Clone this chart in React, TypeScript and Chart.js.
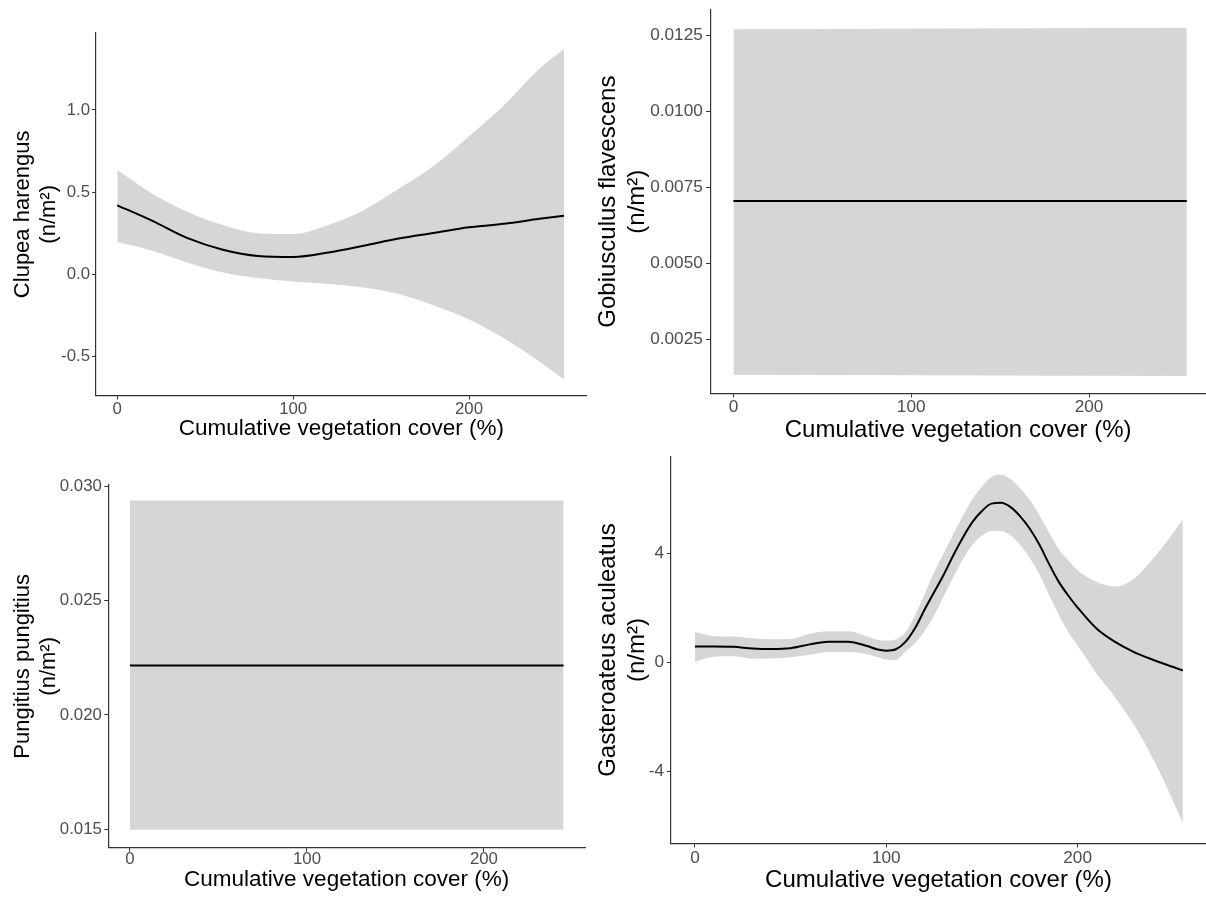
import React, { useEffect, useRef } from "react";
import { Chart, registerables } from "chart.js";

Chart.register(...registerables);

const FONT = "'Liberation Sans', Arial, Helvetica, sans-serif";
const xAxisTitle = "Cumulative vegetation cover (%)";
const unitLine = "(n/m²)";
const xTickValues = [0, 100, 200];

// Panel 1: Clupea harengus
const p1Title = "Clupea harengus";
const p1X = [0, 20, 40, 60, 80, 100, 120, 140, 160, 180, 200, 220, 240, 254];
const p1Fit = [0.42, 0.325, 0.22, 0.15, 0.112, 0.106, 0.133, 0.174, 0.218, 0.252, 0.286, 0.308, 0.338, 0.357];
const p1Upper = [0.634, 0.49, 0.38, 0.3, 0.25, 0.245, 0.3, 0.39, 0.52, 0.66, 0.84, 1.03, 1.25, 1.37];
const p1Lower = [0.198, 0.143, 0.07, 0.012, -0.022, -0.043, -0.058, -0.08, -0.12, -0.19, -0.275, -0.39, -0.53, -0.64];
const p1YTicks = [-0.5, 0, 0.5, 1.0];

// Panel 2: Gobiusculus flavescens
const p2Title = "Gobiusculus flavescens";
const p2X = [0, 255];
const p2Fit = [0.00706, 0.00706];
const p2Upper = [0.01271, 0.01276];
const p2Lower = [0.00134, 0.0013];
const p2YTicks = [0.0025, 0.005, 0.0075, 0.01, 0.0125];

// Panel 3: Pungitius pungitius
const p3Title = "Pungitius pungitius";
const p3X = [0, 245];
const p3Fit = [0.02217, 0.02217];
const p3Upper = [0.02939, 0.02939];
const p3Lower = [0.01497, 0.01497];
const p3YTicks = [0.015, 0.02, 0.025, 0.03];

// Panel 4: Gasteroateus aculeatus
const p4Title = "Gasteroateus aculeatus";
const p4X = [0, 10, 20, 30, 40, 50, 60, 70, 80, 90, 95, 100, 105, 110, 115, 120, 125, 130, 135, 140, 145, 150, 155, 160, 165, 170, 175, 180, 185, 190, 195, 200, 210, 220, 230, 240, 250, 255];
const p4Fit = [0.58, 0.58, 0.57, 0.51, 0.49, 0.52, 0.66, 0.76, 0.76, 0.6, 0.48, 0.43, 0.48, 0.75, 1.25, 1.93, 2.57, 3.21, 3.92, 4.57, 5.14, 5.55, 5.82, 5.85, 5.69, 5.35, 4.9, 4.32, 3.62, 2.97, 2.46, 2.01, 1.23, 0.73, 0.36, 0.08, -0.17, -0.3];
const p4Upper = [1.1, 0.96, 0.95, 0.88, 0.85, 0.86, 1.05, 1.14, 1.14, 0.95, 0.83, 0.8, 0.84, 1.1, 1.72, 2.5, 3.3, 4.0, 4.7, 5.37, 5.98, 6.45, 6.8, 6.88, 6.72, 6.38, 5.95, 5.4, 4.77, 4.17, 3.75, 3.38, 2.95, 2.78, 3.1, 3.85, 4.75, 5.26];
const p4Lower = [0.02, 0.21, 0.22, 0.13, 0.14, 0.19, 0.28, 0.38, 0.38, 0.3, 0.2, 0.1, 0.09, 0.4, 0.7, 1.15, 1.72, 2.42, 3.12, 3.77, 4.3, 4.65, 4.82, 4.82, 4.66, 4.3, 3.83, 3.24, 2.48, 1.77, 1.12, 0.62, -0.42, -1.32, -2.35, -3.62, -5.1, -5.9];
const p4YTicks = [-4, 0, 4];

type Geo = {
  yLeft: number;
  chartLeft: number;
  chartRight: number;
  chartTop: number;
  axisY: number;
  xTitleCenter: number;
  xMin: number;
  xMax: number;
  yMin: number;
  yMax: number;
  yTitleSize: number;
  yTitleLH: number;
  xTitleSize: number;
  tickSize: number;
  xTickPad: number;
  yTickPad: number;
  decimals: number;
};

const geo1: Geo = { yLeft: 10.65, chartLeft: 96, chartRight: 586.7, chartTop: 33, axisY: 395.7, xTitleCenter: 429, xMin: -12.1, xMax: 266.9, yMin: -0.738, yMax: 1.468, yTitleSize: 22, yTitleLH: 1.15, xTitleSize: 22.5, tickSize: 16.8, xTickPad: 0, yTickPad: 2, decimals: 1 };
const geo2: Geo = { yLeft: 593.9, chartLeft: 710.3, chartRight: 1206, chartTop: 10, axisY: 393.3, xTitleCenter: 430.3, xMin: -13.0, xMax: 265.8, yMin: 0.000731, yMax: 0.013347, yTitleSize: 24, yTitleLH: 1.2, xTitleSize: 24, tickSize: 17.2, xTickPad: 0, yTickPad: 3.5, decimals: 4 };
const geo3: Geo = { yLeft: 10.65, chartLeft: 108.3, chartRight: 585, chartTop: 485, axisY: 847.7, xTitleCenter: 880, xMin: -12.26, xMax: 257.1, yMin: 0.014181, yMax: 0.030074, yTitleSize: 22, yTitleLH: 1.15, xTitleSize: 22.5, tickSize: 16.8, xTickPad: -2.5, yTickPad: 2.5, decimals: 3 };
const geo4: Geo = { yLeft: 593.9, chartLeft: 671, chartRight: 1206, chartTop: 456.7, axisY: 843.5, xTitleCenter: 880.8, xMin: -12.5, xMax: 267.1, yMin: -6.64, yMax: 7.54, yTitleSize: 24, yTitleLH: 1.2, xTitleSize: 24, tickSize: 17.2, xTickPad: 0, yTickPad: 3, decimals: 0 };

function makeConfig(
  xs: number[],
  fit: number[],
  upper: number[],
  lower: number[],
  yTicks: number[],
  yTitle: string,
  g: Geo,
  smooth: boolean
): any {
  const pts = (ys: number[]) => xs.map((x, i) => ({ x, y: ys[i] }));
  const interp = smooth ? "monotone" : "default";
  const xH = g.xTitleCenter + (g.xTitleSize * 1.2) / 2 - g.axisY;
  const zeroPad = (s: any) => {
    s.paddingLeft = 0;
    s.paddingRight = 0;
    s.paddingTop = 0;
    s.paddingBottom = 0;
  };
  const gridOpts = { display: true, drawOnChartArea: false, drawTicks: true, tickLength: 4, color: "#333333", lineWidth: 1 };
  const borderOpts = { display: true, color: "#333333", width: 1.2 };
  return {
    type: "line",
    data: {
      datasets: [
        { data: pts(fit), borderColor: "#000000", borderWidth: 2, pointRadius: 0, fill: false, tension: 0, cubicInterpolationMode: interp },
        { data: pts(upper), borderColor: "rgba(0,0,0,0)", borderWidth: 0, backgroundColor: "#d6d6d6", pointRadius: 0, fill: "+1", tension: 0, cubicInterpolationMode: interp },
        { data: pts(lower), borderColor: "rgba(0,0,0,0)", borderWidth: 0, backgroundColor: "#d6d6d6", pointRadius: 0, fill: false, tension: 0, cubicInterpolationMode: interp },
      ],
    },
    options: {
      responsive: false,
      animation: false,
      events: [],
      layout: {
        padding: {
          left: g.yLeft,
          right: 1206 - g.chartRight,
          top: g.chartTop,
          bottom: 897 - g.axisY - xH,
        },
      },
      plugins: { legend: { display: false }, tooltip: { enabled: false } },
      scales: {
        x: {
          type: "linear",
          position: "bottom",
          min: g.xMin,
          max: g.xMax,
          afterBuildTicks: (s: any) => {
            s.ticks = xTickValues.map((v) => ({ value: v }));
          },
          afterFit: (s: any) => {
            s.height = xH;
            zeroPad(s);
          },
          grid: gridOpts,
          border: borderOpts,
          ticks: {
            color: "#4d4d4d",
            font: { family: FONT, size: g.tickSize },
            padding: g.xTickPad,
            maxRotation: 0,
            autoSkip: false,
            callback: (v: any) => String(v),
          },
          title: {
            display: true,
            text: xAxisTitle,
            color: "#000000",
            font: { family: FONT, size: g.xTitleSize, lineHeight: 1.2 },
            padding: { top: 0, bottom: 0 },
          },
        },
        y: {
          type: "linear",
          position: "left",
          min: g.yMin,
          max: g.yMax,
          afterBuildTicks: (s: any) => {
            s.ticks = yTicks.map((v) => ({ value: v }));
          },
          afterFit: (s: any) => {
            s.width = g.chartLeft - g.yLeft;
            zeroPad(s);
          },
          grid: gridOpts,
          border: borderOpts,
          ticks: {
            color: "#4d4d4d",
            font: { family: FONT, size: g.tickSize },
            padding: g.yTickPad,
            autoSkip: false,
            callback: (v: any) => Number(v).toFixed(g.decimals),
          },
          title: {
            display: true,
            text: [yTitle, unitLine],
            color: "#000000",
            font: { family: FONT, size: g.yTitleSize, lineHeight: g.yTitleLH },
            padding: { top: 0, bottom: 0 },
          },
        },
      },
    },
  };
}

function Panel({ build }: { build: () => any }) {
  const ref = useRef<HTMLCanvasElement | null>(null);
  useEffect(() => {
    if (!ref.current) return;
    const chart = new Chart(ref.current, build());
    return () => chart.destroy();
  }, []);
  return (
    <canvas
      ref={ref}
      width={1206}
      height={897}
      style={{ position: "absolute", left: 0, top: 0, width: 1206, height: 897 }}
    />
  );
}

export default function App() {
  return (
    <div
      style={{
        position: "absolute",
        left: 0,
        top: 0,
        width: 1206,
        height: 897,
        overflow: "hidden",
        background: "#ffffff",
      }}
    >
      <Panel build={() => makeConfig(p1X, p1Fit, p1Upper, p1Lower, p1YTicks, p1Title, geo1, true)} />
      <Panel build={() => makeConfig(p2X, p2Fit, p2Upper, p2Lower, p2YTicks, p2Title, geo2, false)} />
      <Panel build={() => makeConfig(p3X, p3Fit, p3Upper, p3Lower, p3YTicks, p3Title, geo3, false)} />
      <Panel build={() => makeConfig(p4X, p4Fit, p4Upper, p4Lower, p4YTicks, p4Title, geo4, true)} />
    </div>
  );
}
